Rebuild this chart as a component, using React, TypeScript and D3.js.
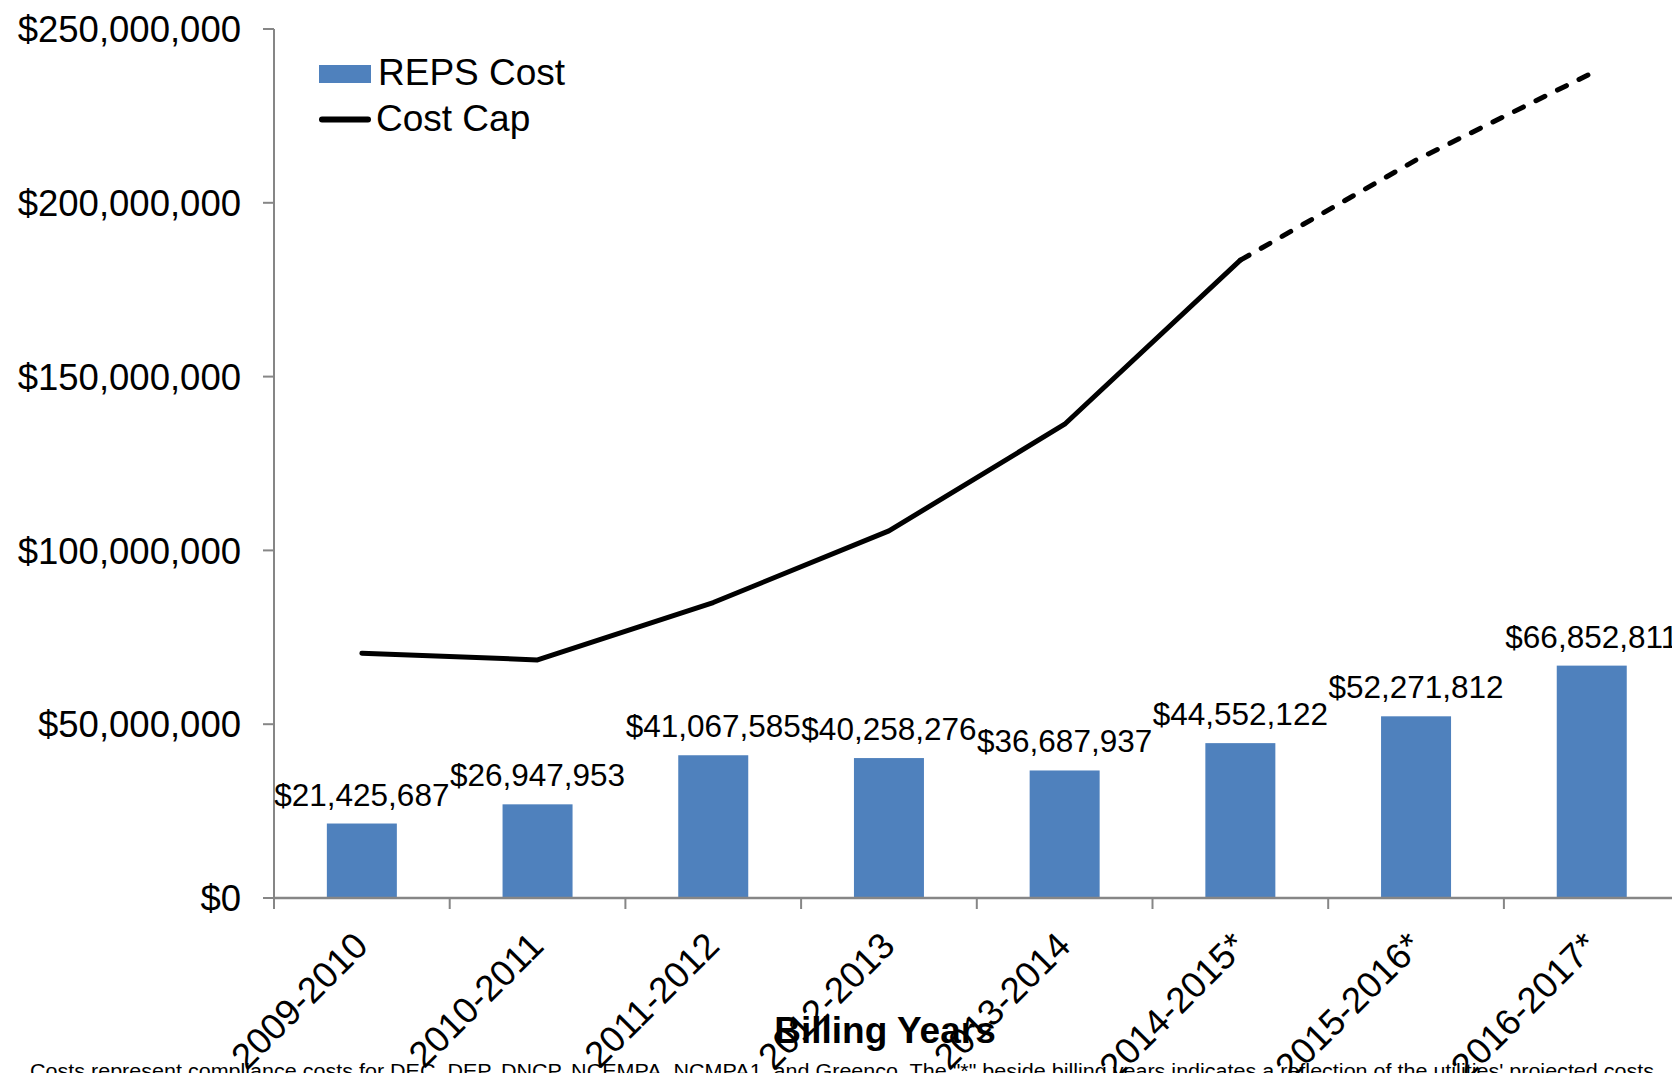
import React from "react";
import * as d3 from "d3";

const categories = ["2009-2010", "2010-2011", "2011-2012", "2012-2013", "2013-2014", "2014-2015*", "2015-2016*", "2016-2017*"];
const repsCost = [21425687, 26947953, 41067585, 40258276, 36687937, 44552122, 52271812, 66852811];
const costCap = [70400000, 68500000, 85000000, 105600000, 136300000, 183500000, 212300000, 237300000];
const yTicks = [0, 50000000, 100000000, 150000000, 200000000, 250000000];
const projectedFrom = 5; // index where dashed (projected) segment begins
const footnote = 'Costs represent compliance costs for DEC, DEP, DNCP, NCEMPA, NCMPA1, and Greenco. The "*" beside billing years indicates a reflection of the utilities\' projected costs.';

const W = 1672;
const H = 1073;
const FONT = "'Liberation Sans', Arial, Helvetica, sans-serif";

export default function App() {
  const x = d3.scaleBand<string>().domain(categories).range([274, 274 + 8 * 175.7]).paddingInner(0).paddingOuter(0);
  const y = d3.scaleLinear().domain([0, 250000000]).range([898, 29]);
  const barW = 70;
  const fmt = (v: number) => "$" + d3.format(",")(v);
  const cxOf = (i: number) => (x(categories[i]) as number) + x.bandwidth() / 2;

  const mkLine = d3
    .line<number | null>()
    .defined((d) => d !== null)
    .x((_, i) => cxOf(i))
    .y((d) => y(d as number));
  const solidPath = mkLine(costCap.map((v, i) => (i <= projectedFrom ? v : null)));
  const dashPath = mkLine(costCap.map((v, i) => (i >= projectedFrom ? v : null)));

  const axisColor = "#868686";
  const boundaries = d3.range(categories.length + 1).map((i) => x.range()[0] + i * x.bandwidth());

  return (
    <svg width={W} height={H} style={{ position: "absolute", left: 0, top: 0, background: "#fff" }} fontFamily={FONT}>
      <rect x={0} y={0} width={W} height={H} fill="#fff" />
      {/* bars */}
      {repsCost.map((v, i) => (
        <rect key={i} x={cxOf(i) - barW / 2} y={y(v)} width={barW} height={y(0) - y(v)} fill="#4F81BD" />
      ))}
      {/* y axis */}
      <line x1={274} x2={274} y1={y(250000000)} y2={y(0)} stroke={axisColor} strokeWidth={2} />
      {yTicks.map((t) => (
        <g key={t}>
          <line x1={263} x2={274} y1={y(t)} y2={y(t)} stroke={axisColor} strokeWidth={2} />
          <text x={241} y={y(t)} dy="0.36em" textAnchor="end" fontSize={36.5} fill="#000">
            {fmt(t)}
          </text>
        </g>
      ))}
      {/* x axis */}
      <line x1={274} x2={W} y1={y(0)} y2={y(0)} stroke={axisColor} strokeWidth={2.5} />
      {boundaries.map((b, i) => (
        <line key={i} x1={b} x2={b} y1={y(0)} y2={y(0) + 11} stroke={axisColor} strokeWidth={2} />
      ))}
      {categories.map((c, i) => (
        <text key={c} transform={`translate(${cxOf(i) + 8},${948}) rotate(-45)`} textAnchor="end" fontSize={36.5} fill="#000">
          {c}
        </text>
      ))}
      {/* line */}
      <path d={solidPath || ""} fill="none" stroke="#000" strokeWidth={5} strokeLinejoin="round" strokeLinecap="round" />
      <path d={dashPath || ""} fill="none" stroke="#000" strokeWidth={5} strokeDasharray="10 14" strokeLinecap="round" />
      {/* data labels */}
      {repsCost.map((v, i) => (
        <text key={i} x={cxOf(i)} y={y(v) - 18} textAnchor="middle" fontSize={31.5} fill="#000">
          {fmt(v)}
        </text>
      ))}
      {/* legend */}
      <rect x={319} y={65} width={52} height={18} fill="#4F81BD" />
      <text x={378} y={85} fontSize={37} fill="#000">REPS Cost</text>
      <line x1={322} x2={368} y1={119.5} y2={119.5} stroke="#000" strokeWidth={6} strokeLinecap="round" />
      <text x={376} y={131} fontSize={37} fill="#000">Cost Cap</text>
      {/* axis title */}
      <text x={885} y={1043} textAnchor="middle" fontSize={37} fontWeight="bold" fill="#000">
        Billing Years
      </text>
      {/* footnote */}
      <text x={30} y={1078} fontSize={20} fill="#000" textLength={1630} lengthAdjust="spacingAndGlyphs">
        {footnote}
      </text>
    </svg>
  );
}
